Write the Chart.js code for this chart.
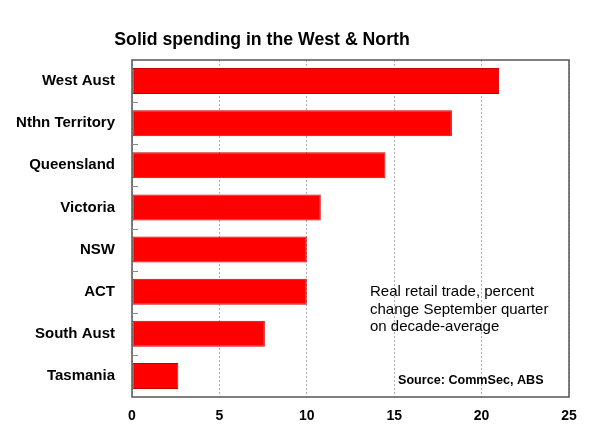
<!DOCTYPE html>
<html>
<head>
<meta charset="utf-8">
<script src="https://cdn.jsdelivr.net/npm/chart.js@4"></script>
<style>
  html, body { margin: 0; padding: 0; background: #fff; }
  canvas { display: block; }
</style>
</head>
<body>
<canvas id="c" width="600" height="446"></canvas>
<script>
const categories = ["West Aust", "Nthn Territory", "Queensland", "Victoria", "NSW", "ACT", "South Aust", "Tasmania"];
const values = [21.0, 18.3, 14.5, 10.8, 10.0, 10.0, 7.6, 2.65];
const xTicks = [0, 5, 10, 15, 20, 25];
const titleText = "Solid spending in the West & North";
const noteLines = ["Real retail trade, percent", "change September quarter", "on decade-average"];
const sourceText = "Source: CommSec, ABS";

const FONT = "'Liberation Sans', Arial, sans-serif";

const decor = {
  id: 'decor',
  afterDraw(chart) {
    const ctx = chart.ctx;
    const a = chart.chartArea;
    const y = chart.scales.y;
    ctx.save();
    // plot border
    ctx.strokeStyle = '#555';
    ctx.lineWidth = 1.5;
    ctx.strokeRect(a.left, a.top, a.right - a.left, a.bottom - a.top);
    // small inside ticks at category boundaries
    ctx.strokeStyle = '#888';
    ctx.lineWidth = 1;
    for (let i = 0; i < categories.length - 1; i++) {
      const p = (y.getPixelForValue(i) + y.getPixelForValue(i + 1)) / 2;
      ctx.beginPath();
      ctx.moveTo(a.left, Math.round(p) + 0.5);
      ctx.lineTo(a.left + 6, Math.round(p) + 0.5);
      ctx.stroke();
    }
    // title
    ctx.fillStyle = '#000';
    ctx.textAlign = 'center';
    ctx.textBaseline = 'middle';
    ctx.font = "bold 17.7px " + FONT;
    ctx.fillText(titleText, 262, 40);
    // note
    ctx.textAlign = 'left';
    ctx.font = "15px " + FONT;
    noteLines.forEach((t, i) => ctx.fillText(t, 370, 292 + i * 17.5));
    ctx.font = "bold 12.6px " + FONT;
    ctx.fillText(sourceText, 398, 381);
    ctx.restore();
  }
};

new Chart(document.getElementById('c'), {
  type: 'bar',
  data: {
    labels: categories,
    datasets: [{
      data: values,
      backgroundColor: '#ff0000',
      borderColor: '#c80000',
      borderWidth: 1,
      borderSkipped: false,
      barPercentage: 0.62,
      categoryPercentage: 1.0
    }]
  },
  options: {
    indexAxis: 'y',
    responsive: false,
    animation: false,
    devicePixelRatio: 1,
    layout: { padding: { left: 0, right: 31, top: 60, bottom: 0 } },
    plugins: { legend: { display: false }, title: { display: false }, tooltip: { enabled: false } },
    scales: {
      x: {
        min: 0, max: 25,
        afterBuildTicks(s) { s.ticks = xTicks.map(v => ({ value: v })); },
        afterFit(s) { s.height = 49; },
        grid: { color: '#b0b0b0', lineWidth: 1, drawTicks: false },
        border: { display: false, dash: [2, 2] },
        ticks: { color: '#000', font: { family: FONT, size: 14, weight: 'bold' }, padding: 11 }
      },
      y: {
        afterFit(s) { s.width = 132; },
        grid: { display: false, drawTicks: false },
        border: { display: false },
        ticks: { color: '#000', font: { family: FONT, size: 15, weight: 'bold' }, padding: 17 }
      }
    }
  },
  plugins: [decor]
});
</script>
</body>
</html>
